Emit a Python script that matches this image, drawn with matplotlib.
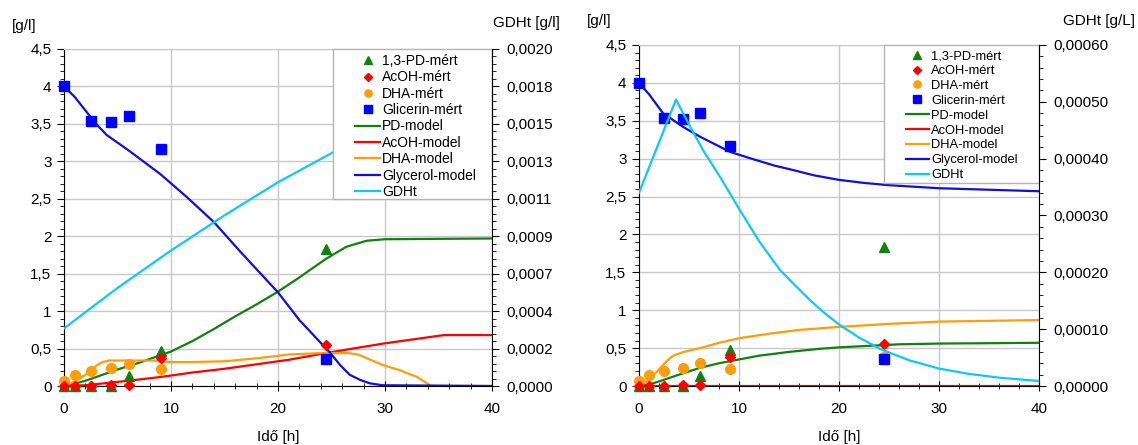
import numpy as np
import matplotlib
matplotlib.use("Agg")
import matplotlib.pyplot as plt
from matplotlib.patches import Rectangle
from matplotlib.ticker import MultipleLocator, FuncFormatter

plt.rcParams['font.family'] = ['Liberation Sans', 'DejaVu Sans']

# measured values (same in both panels)
t_meas = [0, 1, 2.5, 4.4, 6.1, 9.1, 24.5]
pd_meas = [0, 0, 0, 0, 0.13, 0.47, 1.83]
acoh_meas = [0, 0, 0, 0.01, 0.01, 0.38, 0.55]
dha_meas = [0.07, 0.15, 0.2, 0.24, 0.3, 0.23, 0.38]
t_gly = [0, 2.5, 4.4, 6.1, 9.1, 24.5]
gly_meas = [4.0, 3.54, 3.53, 3.6, 3.17, 0.36]

# left panel models
tL_pd = [0, 1, 2, 3.4, 5, 7, 9, 10, 12, 14, 16, 18, 20, 22, 24.5, 26.4, 28.3, 30, 40]
L_pd = [0, 0.03, 0.07, 0.14, 0.22, 0.31, 0.41, 0.46, 0.6, 0.76, 0.93, 1.09, 1.26, 1.45, 1.7, 1.86, 1.94, 1.96, 1.97]
tL_acoh = [0, 2, 4, 6, 9, 12, 15, 18, 21, 24.5, 27, 30, 33, 35.5, 40]
L_acoh = [0, 0.01, 0.04, 0.07, 0.12, 0.18, 0.23, 0.29, 0.35, 0.44, 0.5, 0.57, 0.63, 0.68, 0.68]
tL_dha = [0, 1, 2, 2.5, 3, 3.6, 4.2, 6, 8.5, 9.2, 12, 15, 18, 21, 24, 26.5, 27.5, 28.3, 29.8, 31.4, 33, 34.3, 40]
L_dha = [0, 0.06, 0.15, 0.2, 0.27, 0.32, 0.34, 0.34, 0.34, 0.32, 0.32, 0.33, 0.37, 0.42, 0.44, 0.44, 0.42, 0.37, 0.28, 0.21, 0.12, 0.0, 0.0]
tL_gly = [0, 1, 2, 3, 4, 5, 6, 9, 11.5, 14, 16.5, 20, 22, 23.9, 24.9, 25.8, 26.7, 27.7, 28.6, 29.8, 40]
L_gly = [4.0, 3.86, 3.68, 3.5, 3.35, 3.25, 3.15, 2.83, 2.52, 2.19, 1.79, 1.25, 0.88, 0.59, 0.44, 0.28, 0.15, 0.08, 0.035, 0.01, 0.0]
tL_gdht = [0, 5, 10, 15, 20, 25, 30, 35, 40]
L_gdht = [0.000342, 0.000582, 0.000804, 0.001013, 0.001209, 0.001382, 0.001556, 0.001711, 0.001844]
L_gdht_ticks = [0, 0.0020 / 9, 0.0040 / 9, 0.0060 / 9, 0.0080 / 9, 0.0100 / 9, 0.0120 / 9, 0.0140 / 9, 0.0160 / 9, 0.0020]
L_gdht_labels = ['0,0000', '0,0002', '0,0004', '0,0007', '0,0009', '0,0011', '0,0013', '0,0015', '0,0018', '0,0020']

# right panel models
tR_pd = [0, 1, 2, 4, 6.1, 8, 10, 12, 15, 18, 20, 23, 26, 30, 35, 40]
R_pd = [0, 0.02, 0.06, 0.15, 0.24, 0.3, 0.35, 0.4, 0.45, 0.49, 0.51, 0.53, 0.55, 0.56, 0.565, 0.57]
tR_acoh = [0, 40]
R_acoh = [0, 0]
tR_dha = [0, 0.7, 1.3, 2, 2.7, 3.3, 3.8, 4.5, 6.1, 8, 10, 13, 16, 20, 25, 30, 35, 40]
R_dha = [0.03, 0.05, 0.12, 0.22, 0.32, 0.39, 0.42, 0.45, 0.5, 0.57, 0.63, 0.69, 0.74, 0.78, 0.82, 0.85, 0.86, 0.87]
tR_gly = [0, 1, 2.4, 4.4, 6.1, 9.1, 11, 13.5, 15.4, 17.5, 20, 22.5, 25, 30, 35, 40]
R_gly = [4.0, 3.85, 3.6, 3.42, 3.29, 3.09, 3.01, 2.91, 2.85, 2.78, 2.72, 2.68, 2.65, 2.61, 2.59, 2.57]
tR_gdht = [0, 3.7, 5, 6.4, 8.1, 10.1, 12, 14.1, 15.5, 17.1, 18.5, 20.1, 22, 24.1, 27, 30, 33, 36, 40]
R_gdht = [0.000340, 0.000504, 0.000460, 0.000415, 0.000368, 0.000309, 0.000255, 0.000204, 0.000179,
          0.000151, 0.000129, 0.000107, 0.0000853, 0.0000653, 0.0000453, 0.0000307, 0.0000213,
          0.0000147, 0.0000088]
R_gdht_ticks = [0, 0.0001, 0.0002, 0.0003, 0.0004, 0.0005, 0.0006]
R_gdht_labels = ['0,00000', '0,00010', '0,00020', '0,00030', '0,00040', '0,00050', '0,00060']

meas_labels = ['1,3-PD-mért', 'AcOH-mért', 'DHA-mért', 'Glicerin-mért']
model_labels = ['PD-model', 'AcOH-model', 'DHA-model', 'Glycerol-model', 'GDHt']

GREEN = '#118011'
RED = '#ff0000'
ORANGE = '#ff9d0a'
BLUE = '#0000ff'
DBLUE = '#1010d8'
CYAN = '#10c8f5'
GRID = '#c8c8c8'
FS = 11


def comma(v, pos):
    return f'{v:g}'.replace('.', ',')


def panel(ax, models, gdht, gmax, gticks, glabels, gminor, box, legpos, legfont, legsp):
    ax.set_xlim(0, 40)
    ax.set_ylim(0, 4.5)
    ax.xaxis.set_major_locator(MultipleLocator(10))
    ax.xaxis.set_minor_locator(MultipleLocator(2))
    ax.yaxis.set_major_locator(MultipleLocator(0.5))
    ax.yaxis.set_minor_locator(MultipleLocator(0.1))
    ax.yaxis.set_major_formatter(FuncFormatter(comma))
    ax.grid(which='major', color=GRID, lw=1)
    ax.set_axisbelow(True)
    ax.spines['top'].set_color(GRID)
    ax.spines['right'].set_visible(False)
    ax.tick_params(axis='y', which='major', direction='out', length=5, labelsize=FS, pad=4)
    ax.tick_params(axis='y', which='minor', direction='out', length=3)
    ax.tick_params(axis='x', which='major', direction='inout', length=7, labelsize=FS, pad=8)
    ax.tick_params(axis='x', which='minor', direction='inout', length=5)

    colors = [GREEN, RED, ORANGE, DBLUE]
    lines = []
    for (t, v), c in zip(models, colors):
        ln, = ax.plot(t, v, color=c, lw=1.6, zorder=3)
        lines.append(ln)

    ms = []
    ms.append(ax.plot(t_meas, pd_meas, '^', color=GREEN, ms=7, clip_on=False, zorder=5)[0])
    ms.append(ax.plot(t_meas, acoh_meas, 'D', color=RED, ms=5.5, clip_on=False, zorder=5)[0])
    ms.append(ax.plot(t_meas, dha_meas, 'o', color=ORANGE, ms=7, clip_on=False, zorder=4)[0])
    ms.append(ax.plot(t_gly, gly_meas, 's', color=BLUE, ms=7, clip_on=False, zorder=5)[0])

    ax2 = ax.twinx()
    ax2.set_ylim(0, gmax)
    ax2.set_yticks(gticks)
    ax2.set_yticklabels(glabels)
    ax2.yaxis.set_minor_locator(MultipleLocator(gminor))
    ax2.tick_params(axis='y', which='major', direction='out', length=5, labelsize=FS, pad=5)
    ax2.tick_params(axis='y', which='minor', direction='out', length=3)
    for s in ['top', 'left', 'bottom']:
        ax2.spines[s].set_visible(False)
    ax2.spines['right'].set_zorder(6)
    gl, = ax2.plot(gdht[0], gdht[1], color=CYAN, lw=1.6, zorder=3)
    lines.append(gl)

    x0, y0 = box
    ax2.add_patch(Rectangle((x0, y0), 1 - x0, 1 - y0, transform=ax2.transAxes,
                            fc='white', ec='#b4b4b4', lw=1, zorder=4.9, clip_on=False))
    leg = ax2.legend(ms + lines, meas_labels + model_labels, loc='upper left',
                     bbox_to_anchor=legpos, frameon=False, fontsize=legfont,
                     handlelength=1.8, handletextpad=0.15, labelspacing=legsp,
                     borderpad=0, borderaxespad=0, markerscale=0.75)
    leg.set_zorder(5)
    return ax2


fig = plt.figure(figsize=(11.38, 4.45), dpi=100)
W, H = 1138, 445
axL = fig.add_axes([64 / W, 1 - 386 / H, 428 / W, 337 / H])
axR = fig.add_axes([639 / W, 1 - 386 / H, 400 / W, 341 / H])

panel(axL, [(tL_pd, L_pd), (tL_acoh, L_acoh), (tL_dha, L_dha), (tL_gly, L_gly)],
      (tL_gdht, L_gdht), 0.0020, L_gdht_ticks, L_gdht_labels, 0.0020 / 45,
      (0.6285, 0.555), (0.680, 0.985), 10, 0.17)
panel(axR, [(tR_pd, R_pd), (tR_acoh, R_acoh), (tR_dha, R_dha), (tR_gly, R_gly)],
      (tR_gdht, R_gdht), 0.0006, R_gdht_ticks, R_gdht_labels, 0.00002,
      (0.6125, 0.595), (0.667, 0.985), 9.3, 0.22)

fig.text(12 / W, 1 - 26 / H, '[g/l]', fontsize=FS, va='center', ha='left')
fig.text(493 / W, 1 - 23 / H, 'GDHt [g/l]', fontsize=FS, va='center', ha='left')
fig.text(278 / W, 1 - 437 / H, 'Idő [h]', fontsize=FS, va='center', ha='center')
fig.text(587 / W, 1 - 21 / H, '[g/l]', fontsize=FS, va='center', ha='left')
fig.text(1063 / W, 1 - 21 / H, 'GDHt [g/L]', fontsize=FS, va='center', ha='left')
fig.text(839 / W, 1 - 437 / H, 'Idő [h]', fontsize=FS, va='center', ha='center')

fig.savefig('out.png', dpi=100)
